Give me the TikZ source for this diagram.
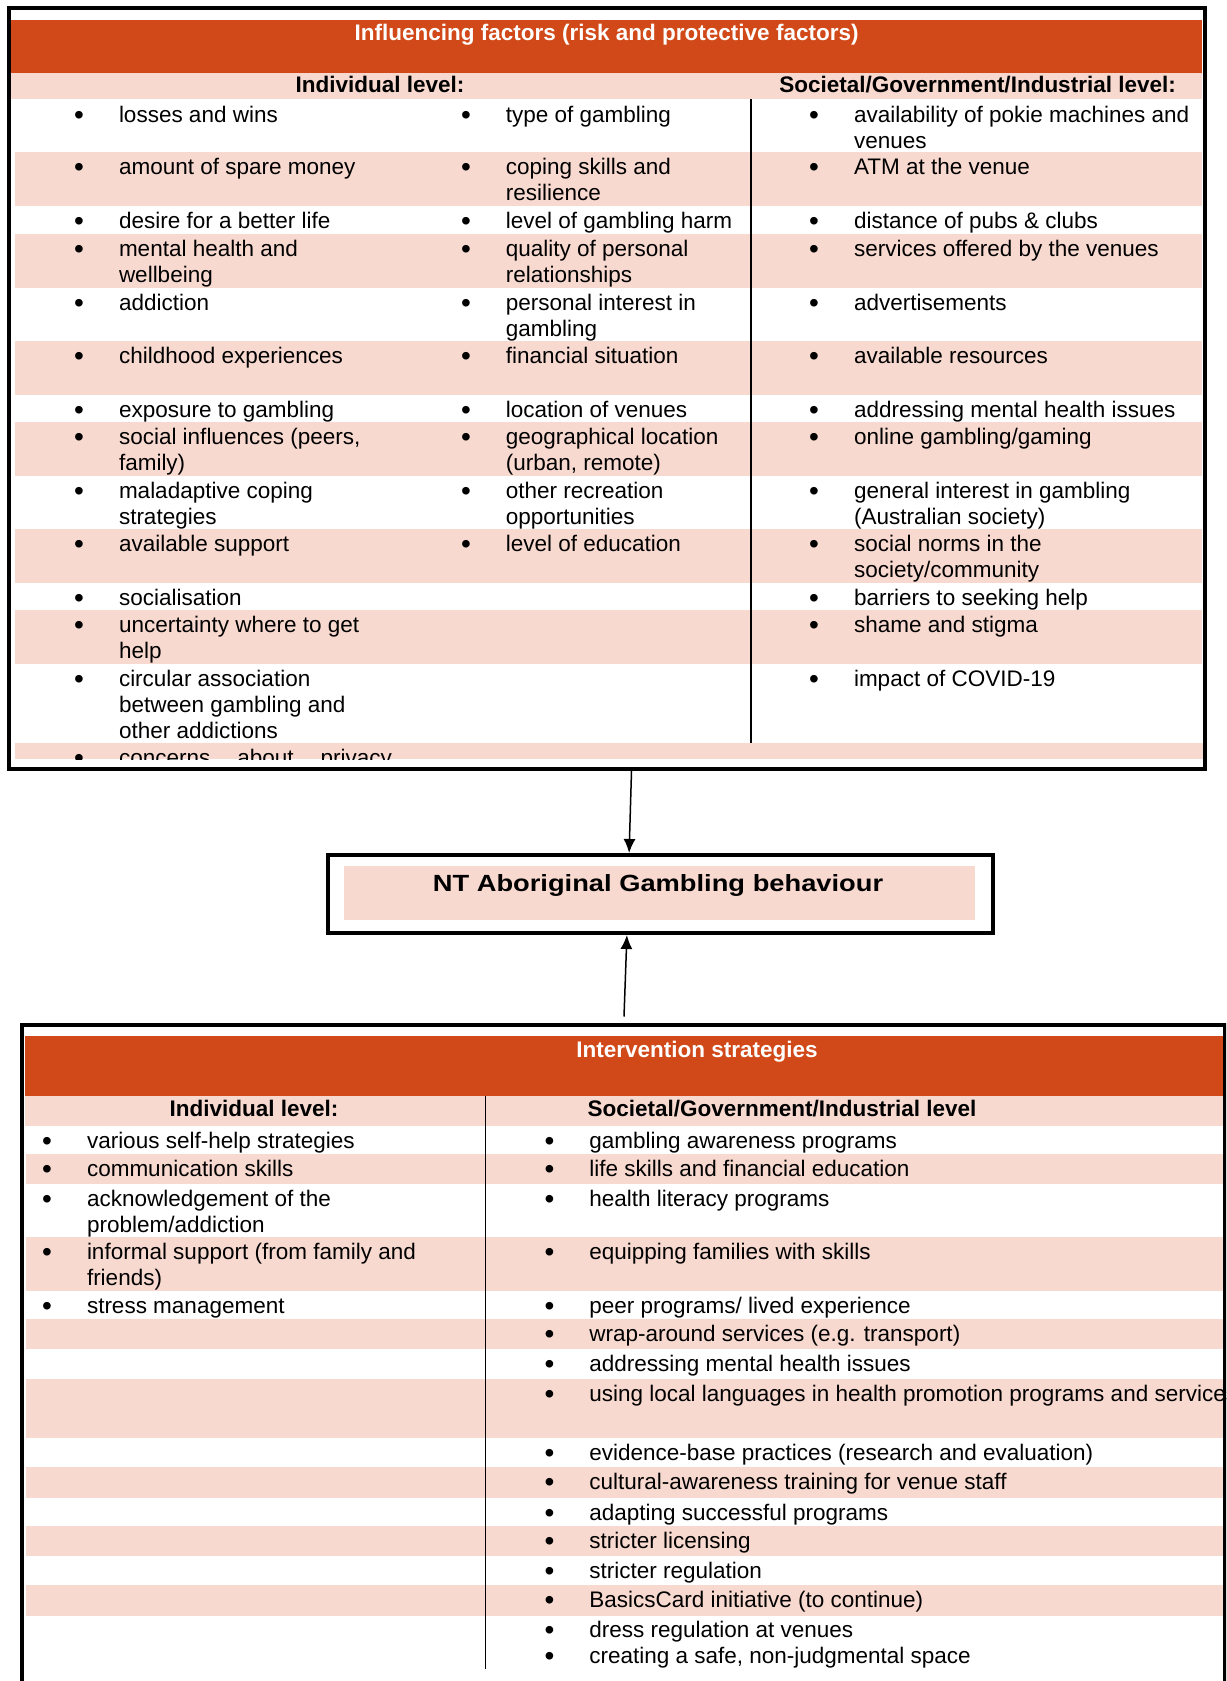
\documentclass[tikz,border=0pt]{standalone}
\usepackage{fontspec}
\setmainfont{Liberation Sans}
\newfontfamily\widefont[FakeStretch=1.166]{Liberation Sans}
\usetikzlibrary{arrows.meta}

\definecolor{hdrorange}{RGB}{209,73,24}
\definecolor{rowpink}{RGB}{248,217,207}

\newcommand{\bul}{\llap{\raisebox{-1pt}{\fontsize{14}{13}\selectfont\textbullet}\hspace{17.5pt}}}
\newcommand{\ml}[1]{\begin{tabular}[t]{@{}l@{}}#1\end{tabular}}

\tikzset{
  boxframe/.style={draw=black, line width=2pt},
  band/.style={fill=hdrorange},
  pinkrow/.style={fill=rowpink},
  divider/.style={draw=black, line width=0.8pt},
  item/.style={anchor=base west, inner sep=0pt, outer sep=0pt},
  heading/.style={anchor=base, inner sep=0pt, font=\fontsize{11.25}{13}\selectfont\bfseries},
  banner/.style={heading, text=white},
  arr/.style={-{Latex[length=7pt,width=6pt]}, line width=0.75pt}
}

\begin{document}
\begin{tikzpicture}[x=0.5pt, y=-0.5pt, font=\fontsize{11.25}{13}\selectfont]
\useasboundingbox (0,0) rectangle (1226,1681);
\clip (0,0) rectangle (1226,1681);

% influencing factors
\begin{scope}
\clip (11,11) rectangle (1203,759);
\fill[band] (11,20) rectangle (1202,72.7);
\fill[pinkrow] (11,72.7) rectangle (1202,99.3);
\fill[pinkrow] (15,152) rectangle (1202,206);
\fill[pinkrow] (15,234) rectangle (1202,288);
\fill[pinkrow] (15,341) rectangle (1202,395);
\fill[pinkrow] (15,422) rectangle (1202,476);
\fill[pinkrow] (15,529) rectangle (1202,583);
\fill[pinkrow] (15,610) rectangle (1202,664);
\fill[pinkrow] (15,743) rectangle (1203,759);
\node[banner] (inftitle) at (606.6,40.5) {Influencing factors (risk and protective factors)};
\node[heading] (infind) at (380,92.7) {Individual level:};
\node[heading] (infsoc) at (977.6,92.7) {Societal/Government/Industrial level:};
\draw[divider] (751,99.3) -- (751,742.7);
% individual level
\node[item] (l1) at (119,122.5) {\bul losses and wins};
\node[item] (l2) at (119,174.5) {\bul amount of spare money};
\node[item] (l3) at (119,228.5) {\bul desire for a better life};
\node[item] (l4) at (119,256.5) {\bul\ml{mental health and\\wellbeing}};
\node[item] (l5) at (119,310.5) {\bul addiction};
\node[item] (l6) at (119,363.5) {\bul childhood experiences};
\node[item] (l7) at (119,417.5) {\bul exposure to gambling};
\node[item] (l8) at (119,444.5) {\bul\ml{social influences (peers,\\family)}};
\node[item] (l9) at (119,498.5) {\bul\ml{maladaptive coping\\strategies}};
\node[item] (l10) at (119,551.5) {\bul available support};
\node[item] (l11) at (119,605.5) {\bul socialisation};
\node[item] (l12) at (119,632.5) {\bul\ml{uncertainty where to get\\help}};
\node[item] (l13) at (119,686.5) {\bul\ml{circular association\\between gambling and\\other addictions}};
\node[item] (l14) at (119,765.5) {\bul concerns\hspace{13.5pt}about\hspace{13.5pt}privacy};
\node[item] (m1) at (505.8,122.5) {\bul type of gambling};
\node[item] (m2) at (505.8,174.5) {\bul\ml{coping skills and\\resilience}};
\node[item] (m3) at (505.8,228.5) {\bul level of gambling harm};
\node[item] (m4) at (505.8,256.5) {\bul\ml{quality of personal\\relationships}};
\node[item] (m5) at (505.8,310.5) {\bul\ml{personal interest in\\gambling}};
\node[item] (m6) at (505.8,363.5) {\bul financial situation};
\node[item] (m7) at (505.8,417.5) {\bul location of venues};
\node[item] (m8) at (505.8,444.5) {\bul\ml{geographical location\\(urban, remote)}};
\node[item] (m9) at (505.8,498.5) {\bul\ml{other recreation\\opportunities}};
\node[item] (m10) at (505.8,551.5) {\bul level of education};
% societal level
\node[item] (r1) at (854,122.5) {\bul\ml{availability of pokie machines and\\venues}};
\node[item] (r2) at (854,174.5) {\bul ATM at the venue};
\node[item] (r3) at (854,228.5) {\bul distance of pubs \& clubs};
\node[item] (r4) at (854,256.5) {\bul services offered by the venues};
\node[item] (r5) at (854,310.5) {\bul advertisements};
\node[item] (r6) at (854,363.5) {\bul available resources};
\node[item] (r7) at (854,417.5) {\bul addressing mental health issues};
\node[item] (r8) at (854,444.5) {\bul online gambling/gaming};
\node[item] (r9) at (854,498.5) {\bul\ml{general interest in gambling\\(Australian society)}};
\node[item] (r10) at (854,551.5) {\bul\ml{social norms in the\\society/community}};
\node[item] (r11) at (854,605.5) {\bul barriers to seeking help};
\node[item] (r12) at (854,632.5) {\bul shame and stigma};
\node[item] (r13) at (854,686.5) {\bul impact of COVID-19};
\end{scope}
\draw[boxframe] (8.8,8.3) rectangle (1205.3,769);
\coordinate (f1) at (631.5,771);

% gambling behaviour
\node[boxframe, minimum width=332.7pt, minimum height=39pt, inner sep=0pt] (behav) at (660.3,894) {};
\fill[pinkrow] (344,866) rectangle (975,920);
\node[anchor=base, inner sep=0pt, font=\fontsize{11.7}{13}\selectfont\widefont\bfseries] (behavtxt) at (658,891.7) {NT Aboriginal Gambling behaviour};

% intervention strategies
\fill[band] (24.5,1036) rectangle (1223,1096);
\fill[pinkrow] (24.5,1096) rectangle (1223,1126);
\fill[pinkrow] (26,1154) rectangle (1223,1184);
\fill[pinkrow] (26,1237) rectangle (1223,1291);
\fill[pinkrow] (26,1319) rectangle (1223,1349);
\fill[pinkrow] (26,1379) rectangle (1223,1438);
\fill[pinkrow] (26,1467) rectangle (1223,1498);
\fill[pinkrow] (26,1526) rectangle (1223,1556);
\fill[pinkrow] (26,1585) rectangle (1223,1616);
\node[banner] (intitle) at (697,1057) {Intervention strategies};
\node[heading] (intind) at (254,1116.7) {Individual level:};
\node[heading] (intsoc) at (782,1116.7) {Societal/Government/Industrial level};
\draw[divider] (485.6,1096) -- (485.6,1669);
\node[item] (il1) at (87,1148) {\bul various self-help strategies};
\node[item] (il2) at (87,1176.5) {\bul communication skills};
\node[item] (il3) at (87,1206) {\bul\ml{acknowledgement of the\\problem/addiction}};
\node[item] (il4) at (87,1259.5) {\bul\ml{informal support (from family and\\friends)}};
\node[item] (il5) at (87,1313) {\bul stress management};
\node[item] (ir1) at (589.3,1148) {\bul gambling awareness programs};
\node[item] (ir2) at (589.3,1176.5) {\bul life skills and financial education};
\node[item] (ir3) at (589.3,1206) {\bul health literacy programs};
\node[item] (ir4) at (589.3,1259.5) {\bul equipping families with skills};
\node[item] (ir5) at (589.3,1313) {\bul peer programs/ lived experience};
\node[item] (ir6) at (589.3,1341) {\bul wrap-around services (e.g. transport)};
\node[item] (ir7) at (589.3,1371) {\bul addressing mental health issues};
\node[item] (ir8) at (589.3,1401.5) {\bul using local languages in health promotion programs and services};
\node[item] (ir9) at (589.3,1460) {\bul evidence-base practices (research and evaluation)};
\node[item] (ir10) at (589.3,1489) {\bul cultural-awareness training for venue staff};
\node[item] (ir11) at (589.3,1520) {\bul adapting successful programs};
\node[item] (ir12) at (589.3,1548.5) {\bul stricter licensing};
\node[item] (ir13) at (589.3,1578) {\bul stricter regulation};
\node[item] (ir14) at (589.3,1607) {\bul BasicsCard initiative (to continue)};
\node[item] (ir15) at (589.3,1637.5) {\bul dress regulation at venues};
\node[item] (ir16) at (589.3,1663.5) {\bul creating a safe, non-judgmental space};
\draw[boxframe] (22,1024.7) rectangle (1225,1720);
\coordinate (s1) at (624,1016.5);

% arrows
\draw[arr] (f1) -- ([xshift=-15.6pt]behav.north);
\draw[arr] (s1) -- ([xshift=-16.7pt]behav.south);
\end{tikzpicture}
\end{document}
